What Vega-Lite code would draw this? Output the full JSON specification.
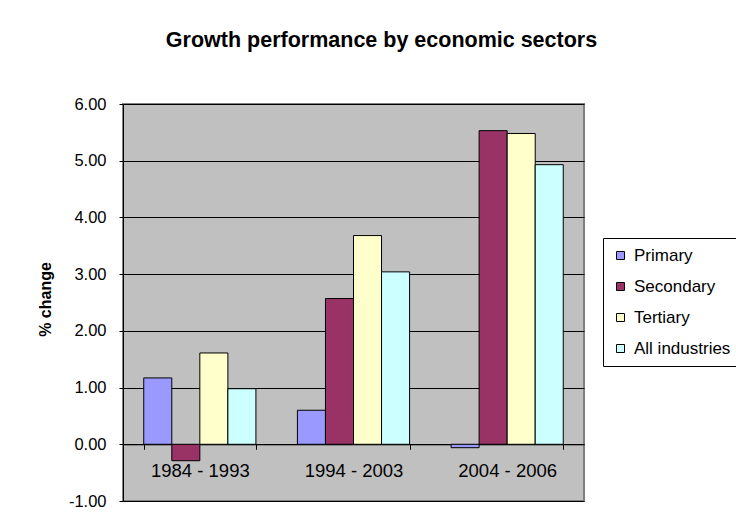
{
  "$schema": "https://vega.github.io/schema/vega-lite/v6.json",
  "width": 461,
  "height": 397,
  "autosize": {"type": "none"},
  "padding": {"left": 123, "top": 104, "right": 152, "bottom": 27},
  "background": "white",
  "title": {
    "text": "Growth performance by economic sectors",
    "font": "Liberation Sans",
    "fontSize": 21.5,
    "fontWeight": "bold",
    "color": "black",
    "anchor": "middle",
    "frame": "group",
    "baseline": "alphabetic",
    "dx": 28,
    "offset": 28
  },
  "data": {
    "values": [
      {"period": "1984 - 1993", "sector": "Primary", "value": 1.17},
      {"period": "1984 - 1993", "sector": "Secondary", "value": -0.29},
      {"period": "1984 - 1993", "sector": "Tertiary", "value": 1.61},
      {"period": "1984 - 1993", "sector": "All industries", "value": 0.98},
      {"period": "1994 - 2003", "sector": "Primary", "value": 0.60},
      {"period": "1994 - 2003", "sector": "Secondary", "value": 2.57},
      {"period": "1994 - 2003", "sector": "Tertiary", "value": 3.68},
      {"period": "1994 - 2003", "sector": "All industries", "value": 3.04},
      {"period": "2004 - 2006", "sector": "Primary", "value": -0.06},
      {"period": "2004 - 2006", "sector": "Secondary", "value": 5.53},
      {"period": "2004 - 2006", "sector": "Tertiary", "value": 5.48},
      {"period": "2004 - 2006", "sector": "All industries", "value": 4.93}
    ]
  },
  "mark": {"type": "bar", "stroke": "black", "strokeWidth": 1, "fillOpacity": 1},
  "encoding": {
    "x": {
      "field": "period",
      "type": "nominal",
      "sort": null,
      "scale": {"paddingInner": 0.27, "paddingOuter": 0.135},
      "axis": {
        "title": null,
        "orient": "bottom",
        "offset": -56.7,
        "labelAngle": 0,
        "labelFont": "Liberation Sans",
        "labelFontSize": 18.5,
        "labelColor": "black",
        "labelPadding": 12,
        "labelBaseline": "top",
        "tickBand": "extent",
        "tickSize": 5,
        "tickColor": "black",
        "domainColor": "black",
        "domainWidth": 1,
        "grid": false
      }
    },
    "xOffset": {
      "field": "sector",
      "type": "nominal",
      "sort": ["Primary", "Secondary", "Tertiary", "All industries"],
      "scale": {"paddingInner": 0, "paddingOuter": 0}
    },
    "y": {
      "field": "value",
      "type": "quantitative",
      "scale": {"domain": [-1, 6], "nice": false, "zero": false},
      "axis": {
        "title": "% change",
        "titleFont": "Liberation Sans",
        "titleFontSize": 16,
        "titleFontWeight": "bold",
        "titleColor": "black",
        "titleAngle": -90,
        "titleBaseline": "middle",
        "titleAlign": "center",
        "titleX": -78,
        "titleY": 195,
        "values": [-1, 0, 1, 2, 3, 4, 5, 6],
        "format": ".2f",
        "labelExpr": "replace(datum.label, '\u2212', '-')",
        "labelFont": "Liberation Sans",
        "labelFontSize": 16.5,
        "labelColor": "black",
        "labelPadding": 13,
        "tickSize": 4,
        "tickColor": "black",
        "domainColor": "black",
        "grid": true,
        "gridColor": "black",
        "gridWidth": 1
      }
    },
    "color": {
      "field": "sector",
      "type": "nominal",
      "scale": {
        "domain": ["Primary", "Secondary", "Tertiary", "All industries"],
        "range": ["#9999FF", "#993366", "#FFFFCC", "#CCFFFF"]
      },
      "legend": {
        "title": null,
        "orient": "none",
        "legendX": 480,
        "legendY": 134,
        "symbolType": "square",
        "symbolSize": 64,
        "symbolStrokeColor": "black",
        "symbolStrokeWidth": 1,
        "labelFont": "Liberation Sans",
        "labelFontSize": 17,
        "labelColor": "black",
        "labelOffset": 5,
        "rowPadding": 13,
        "padding": 9,
        "strokeColor": "black",
        "fillColor": "white"
      }
    }
  },
  "config": {
    "view": {"fill": "#C0C0C0", "stroke": "#808080", "strokeWidth": 2}
  }
}
